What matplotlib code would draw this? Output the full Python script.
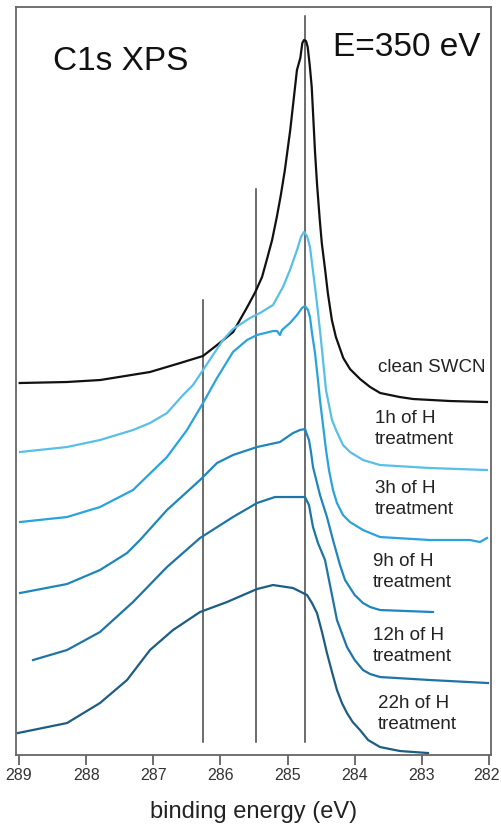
import matplotlib
matplotlib.use("Agg")
import matplotlib.pyplot as plt
from matplotlib.transforms import ScaledTranslation

plt.rcParams['font.family'] = ['Liberation Sans', 'DejaVu Sans']

# binding energies (eV) and stacked intensities (arb. units) for each spectrum
clean_E = [288.99, 288.29, 287.79, 287.05, 286.60, 286.26, 286.05, 285.81, 285.71, 285.60,
           285.48, 285.38, 285.31, 285.23, 285.16, 285.10, 285.04, 284.96, 284.86, 284.81,
           284.78, 284.755, 284.725, 284.70, 284.67, 284.64, 284.59, 284.56, 284.52, 284.49,
           284.44, 284.40, 284.34, 284.28, 284.17, 284.07, 283.92, 283.77, 283.62, 283.33,
           283.13, 282.58, 282.03]
clean_I = [372, 373, 375, 383, 392, 399, 410, 423, 435, 448,
           463, 478, 495, 515, 538, 560, 585, 625, 685, 697,
           712, 715, 714, 708, 690, 668, 602, 570, 535, 512,
           485, 462, 435, 418, 397, 386, 376, 368, 362, 358,
           356, 354, 353]

h1_E = [288.985, 288.285, 287.794, 287.302, 287.049, 286.796, 286.557, 286.408, 286.259, 286.111,
        285.962, 285.813, 285.559, 285.410, 285.217, 285.068, 284.964, 284.859, 284.800, 284.755,
        284.710, 284.666, 284.591, 284.547, 284.502, 284.457, 284.427, 284.383, 284.338, 284.278,
        284.174, 284.070, 283.876, 283.623, 282.878, 282.030]
h1_I = [303, 308, 315, 325, 332, 342, 360, 370, 385, 400,
        415, 426, 437, 442, 450, 468, 485, 505, 518, 523,
        519, 508, 468, 443, 415, 385, 365, 350, 335, 325,
        310, 303, 295, 290, 287, 285]

h3_E = [288.985, 288.285, 287.794, 287.302, 286.796, 286.498, 286.259, 286.051, 285.813, 285.604,
        285.455, 285.217, 285.157, 285.113, 285.083, 284.964, 284.859, 284.785, 284.740, 284.696,
        284.666, 284.636, 284.591, 284.547, 284.517, 284.472, 284.427, 284.383, 284.323, 284.264,
        284.174, 284.070, 283.876, 283.623, 282.878, 282.283, 282.134, 282.030]
h3_I = [233, 238, 248, 265, 298, 325, 352, 377, 403, 415,
        420, 424, 424, 420, 425, 432, 440, 447, 449, 445,
        438, 422, 402, 375, 355, 330, 305, 285, 265, 252,
        240, 233, 225, 218, 215, 215, 213, 217]

h9_E = [288.985, 288.285, 287.794, 287.391, 287.198, 286.796, 286.304, 286.051, 285.813, 285.455,
        285.113, 284.919, 284.815, 284.740, 284.681, 284.651, 284.621, 284.517, 284.413, 284.323,
        284.219, 284.144, 284.000, 283.876, 283.770, 283.623, 282.834]
h9_I = [162, 171, 185, 202, 215, 245, 275, 292, 300, 308,
        313, 322, 325, 326, 315, 303, 288, 260, 238, 215,
        190, 175, 160, 152, 148, 145, 143]

h12_E = [288.791, 288.285, 287.794, 287.302, 286.796, 286.304, 285.813, 285.455, 285.187, 284.964,
         284.740, 284.681, 284.621, 284.547, 284.442, 284.353, 284.264, 284.115, 284.000, 283.876,
         283.770, 283.623, 282.878, 282.015]
h12_I = [95, 105, 123, 153, 188, 217, 238, 252, 258, 258,
         258, 250, 228, 212, 195, 165, 135, 108, 95, 85,
         81, 78, 75, 72]

h22_E = [289.015, 288.285, 287.794, 287.391, 287.049, 286.706, 286.304, 285.902, 285.455, 285.217,
         284.919, 284.710, 284.636, 284.562, 284.487, 284.413, 284.338, 284.264, 284.190, 284.115,
         284.030, 283.921, 283.800, 283.623, 283.325, 282.908]
h22_I = [22, 32, 52, 75, 105, 125, 143, 153, 166, 170,
         167, 160, 152, 142, 123, 102, 83, 65, 52, 42,
         33, 25, 15, 8, 4, 2]

series = [
    (clean_E, clean_I, '#111111'),
    (h1_E, h1_I, '#58bfe8'),
    (h3_E, h3_I, '#2aa3dc'),
    (h9_E, h9_I, '#1f86bd'),
    (h12_E, h12_I, '#1e74a6'),
    (h22_E, h22_I, '#1c5d84'),
]

# reference lines: position, top of the line
marker_E = [284.74, 285.47, 286.26]
marker_top = [739, 566, 455]
marker_bottom = 13

labels = ['clean SWCN', '1h of H\ntreatment', '3h of H\ntreatment', '9h of H\ntreatment',
          '12h of H\ntreatment', '22h of H\ntreatment']
label_E = [283.65, 283.70, 283.70, 283.73, 283.73, 283.65]
label_y = [388, 326, 256, 183, 109, 41]

ticks = [289, 288, 287, 286, 285, 284, 283, 282]

fig = plt.figure(figsize=(5.01, 8.24), dpi=100)
ax = fig.add_axes([0.0319, 0.0837, 0.9481, 0.9078])

for e, top in zip(marker_E, marker_top):
    ax.plot([e, e], [marker_bottom, top], color='#444444', lw=1.1, zorder=1)

for E, I, c in series:
    ax.plot(E, I, color=c, lw=1.6, zorder=2, solid_joinstyle='round')

for txt, e, y in zip(labels, label_E, label_y):
    ax.text(e, y, txt, fontsize=13.5, color='#222222', ha='left', va='center',
            linespacing=1.35)

ax.text(288.49, 694, 'C1s XPS', fontsize=24, color='#111111', ha='left', va='center')
ax.text(284.32, 708, 'E=350 eV', fontsize=24, color='#111111', ha='left', va='center')

ax.set_xlim(289.045, 281.97)
ax.set_ylim(0, 748)
ax.set_xticks(ticks)
ax.set_xticklabels([str(t) for t in ticks], fontsize=11.5, color='#333333')
ax.set_yticks([])
ax.tick_params(axis='x', direction='out', length=7, width=1.2, color='#555555', pad=2)
# pull the last label in so it stays inside the figure
last = ax.get_xticklabels()[-1]
last.set_transform(last.get_transform() + ScaledTranslation(-2 / 72, 0, fig.dpi_scale_trans))
for s in ax.spines.values():
    s.set_color('#666666')
    s.set_linewidth(1.3)
ax.set_xlabel('binding energy (eV)', fontsize=17, color='#222222', labelpad=13)

fig.savefig('out.png', dpi=100)
